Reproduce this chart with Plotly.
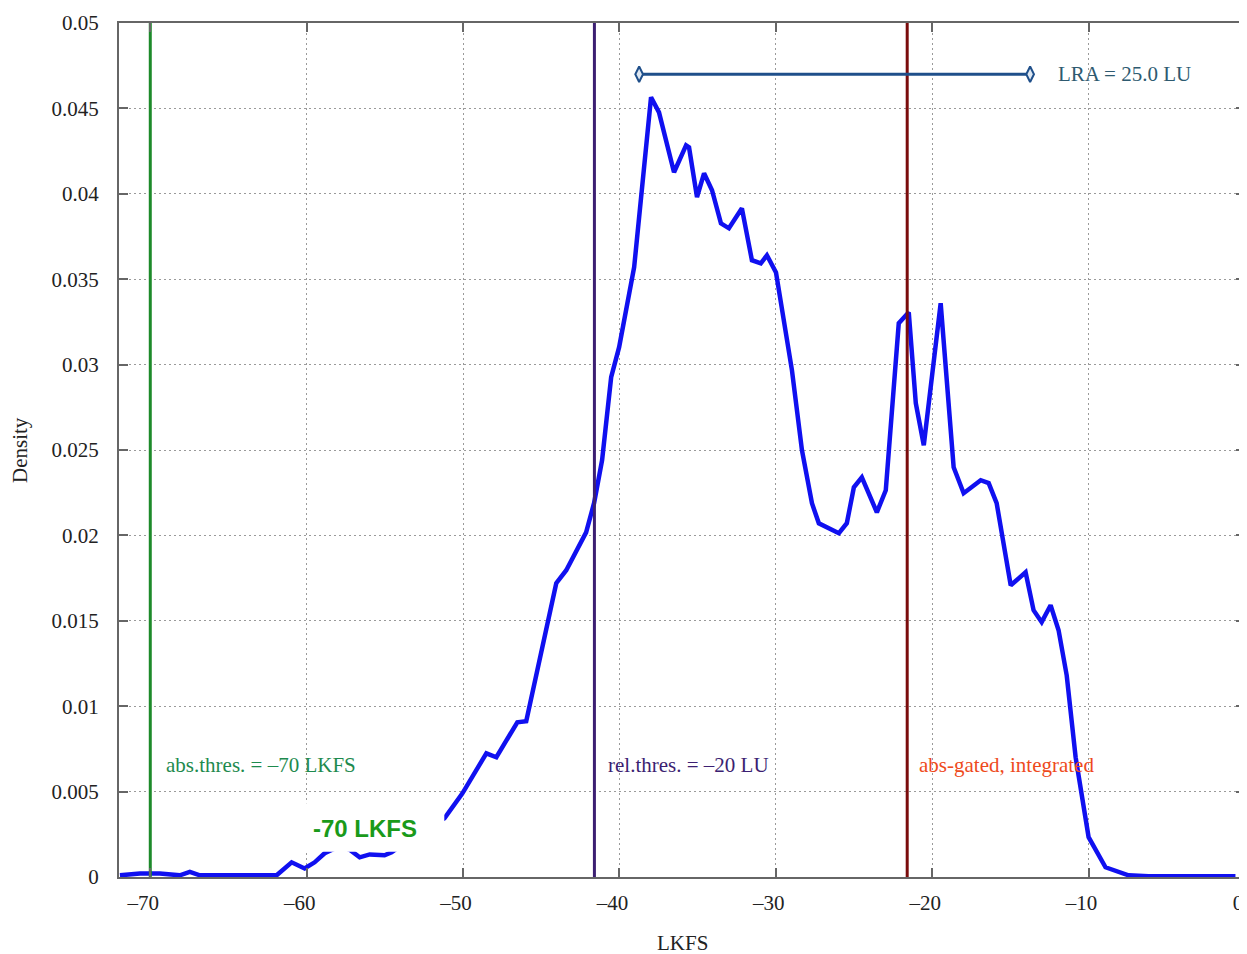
import plotly.graph_objects as go

# ---- data ----
lkfs = [-71.94, -70.66, -69.39, -68.11, -67.47, -66.83, -61.92, -60.96, -60.13, -59.49,
        -58.85, -57.89, -57.25, -56.61, -55.97, -55.02, -54.57, -53.90, -52.78, -51.19, -50.04,
        -48.51, -47.87, -46.53, -45.96, -44.04, -43.40, -42.13, -41.62, -41.11, -40.53,
        -40.02, -39.06, -37.98, -37.47, -36.51, -35.74, -35.55, -35.04, -34.59, -34.08,
        -33.51, -33.00, -32.17, -31.53, -30.96, -30.57, -29.99, -29.61, -28.97, -28.33,
        -27.69, -27.25, -26.80, -25.97, -25.46, -25.01, -24.50, -23.54, -22.97, -22.14,
        -21.50, -21.05, -20.54, -19.46, -18.63, -17.99, -16.90, -16.39, -15.88, -14.98,
        -14.03, -13.52, -13.00, -12.43, -11.92, -11.40, -10.83, -10.00, -8.92, -7.90, -7.45,
        -6.17, -0.61]
density = [0.0001, 0.0002, 0.0002, 0.0001, 0.0003, 0.0001, 0.0001, 0.00086, 0.0005, 0.00086,
           0.00139, 0.0018, 0.0016, 0.00115, 0.00132, 0.00127, 0.00145, 0.0019, 0.00262, 0.00344, 0.0049,
           0.00724, 0.00701, 0.00906, 0.00912, 0.0172, 0.01796, 0.02018, 0.0219, 0.0244, 0.02926,
           0.03102, 0.0357, 0.04565, 0.04477, 0.04126, 0.04284, 0.04272, 0.0398, 0.0412, 0.04021,
           0.03827, 0.03798, 0.03915, 0.03611, 0.03593, 0.0364, 0.0354, 0.03318, 0.02967, 0.02499,
           0.02188, 0.02071, 0.02048, 0.02013, 0.02071, 0.02282, 0.0234, 0.02135, 0.02264, 0.03242,
           0.03306, 0.02774, 0.02528, 0.03359, 0.02399, 0.02247, 0.02323, 0.02306, 0.02189, 0.01708,
           0.01784, 0.01562, 0.01492, 0.01591, 0.01445, 0.0118, 0.00701, 0.00233, 0.00057, 0.00028, 0.0001,
           0.00004, 0.00004]

abs_threshold = -70.0
integrated = -21.6
rel_threshold = -41.6
lra_low = -38.74
lra_high = -13.74
lra_level = 0.047

x_tickvals = [-70, -60, -50, -40, -30, -20, -10, 0]
x_ticktext = ["\u201370", "\u201360", "\u201350", "\u201340", "\u201330", "\u201320", "\u201310", "0"]
y_tickvals = [0, 0.005, 0.01, 0.015, 0.02, 0.025, 0.03, 0.035, 0.04, 0.045, 0.05]
y_ticktext = ["0", "0.005", "0.01", "0.015", "0.02", "0.025", "0.03", "0.035", "0.04", "0.045", "0.05"]

SERIF = "Liberation Serif, Times New Roman, serif"

fig = go.Figure()

fig.add_trace(go.Scatter(x=lkfs, y=density, mode="lines",
                         line=dict(color="#1010f0", width=4.5), hoverinfo="skip"))

for xv, col in [(abs_threshold, "#1d8a2a"), (rel_threshold, "#3c1f72"), (integrated, "#7a0c0c")]:
    fig.add_trace(go.Scatter(x=[xv, xv], y=[0, 0.05], mode="lines",
                             line=dict(color=col, width=3), hoverinfo="skip"))

fig.add_trace(go.Scatter(x=[lra_low, lra_high], y=[lra_level, lra_level], mode="lines+markers",
                         line=dict(color="#1f4f8a", width=3),
                         marker=dict(symbol="diamond-tall", size=11, color="#dfe8f2",
                                     line=dict(color="#1f4f8a", width=2)),
                         hoverinfo="skip"))

# white box behind the bold label (covers curve in reference)
fig.add_shape(type="rect", xref="x", yref="y", x0=-60.6, x1=-51.2, y0=0.00148, y1=0.00432,
              fillcolor="white", line=dict(width=0), layer="above")

fig.add_annotation(x=-56.3, y=0.00285, text="<b>-70 LKFS</b>", showarrow=False,
                   font=dict(family="Liberation Sans, Arial, sans-serif", size=24, color="#1a9a1a"))
fig.add_annotation(x=-69.1, y=0.00654, text="abs.thres. = \u201370 LKFS", showarrow=False,
                   xanchor="left", font=dict(family=SERIF, size=21, color="#1e8a4e"))
fig.add_annotation(x=-40.85, y=0.00654, text="rel.thres. = \u201320 LU", showarrow=False,
                   xanchor="left", font=dict(family=SERIF, size=21, color="#3c1f72"))
fig.add_annotation(x=-21.0, y=0.00654, text="abs-gated, integrated", showarrow=False,
                   xanchor="left", font=dict(family=SERIF, size=21, color="#ee4a1c"))
fig.add_annotation(x=-12.1, y=lra_level, text="LRA = 25.0 LU", showarrow=False,
                   xanchor="left", font=dict(family=SERIF, size=21, color="#2e5a70"))

# axis titles
fig.add_annotation(xref="paper", yref="paper", x=0.5, y=0, yanchor="middle", yshift=-66,
                   text="LKFS", showarrow=False, font=dict(family=SERIF, size=21, color="#222"))
fig.add_annotation(xref="paper", yref="paper", x=0, y=0.5, xanchor="center", xshift=-99,
                   textangle=-90, text="Density", showarrow=False,
                   font=dict(family=SERIF, size=21, color="#222"))

axis_common = dict(showline=True, linecolor="#666", linewidth=2, mirror="ticks",
                   ticks="inside", ticklen=9, tickwidth=2, tickcolor="#666",
                   showgrid=True, gridcolor="#9a9a9a", gridwidth=1, griddash="2px,3px",
                   zeroline=False, automargin=False,
                   tickfont=dict(family=SERIF, size=21, color="#222"))

fig.update_xaxes(range=[-72, 0], tickvals=x_tickvals, ticktext=x_ticktext,
                 ticklabelshift=-7, ticklabelstandoff=6, ticklabeloverflow="allow", **axis_common)
fig.update_yaxes(range=[0, 0.05], tickvals=y_tickvals, ticktext=y_ticktext,
                 ticklabelstandoff=14, **axis_common)

# page has an 8px body margin, so the figure is sized to fit inside the window
fig.update_layout(width=1239, height=946, showlegend=False,
                  plot_bgcolor="white", paper_bgcolor="white",
                  margin=dict(l=111, r=2, t=15, b=77))

fig.write_html("out.html")
